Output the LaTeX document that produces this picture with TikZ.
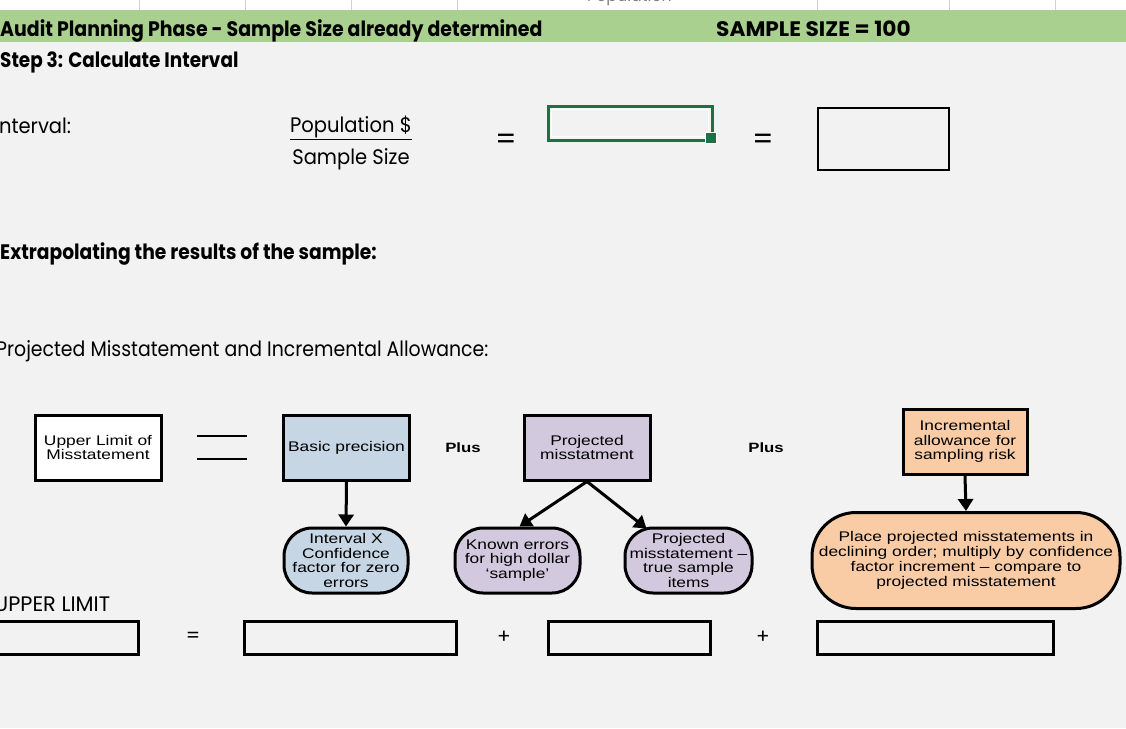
\documentclass[tikz,border=0pt]{standalone}
\usepackage{fontspec}
\setmainfont{Poppins}
\newfontfamily\shR[FakeStretch=0.93]{Poppins}
\newfontfamily\shB[FakeStretch=0.89]{Poppins}
\newfontfamily\arialw[FakeStretch=1.24]{Liberation Sans}
\usetikzlibrary{arrows.meta,calc}
\definecolor{bg}{HTML}{F2F2F2}
\definecolor{band}{HTML}{A9D08E}
\definecolor{xlgreen}{HTML}{1E7145}
\definecolor{gridc}{HTML}{D0D0D0}
\definecolor{bluef}{HTML}{C6D6E4}
\definecolor{lilac}{HTML}{D2C9DF}
\definecolor{peach}{HTML}{F9CCA6}
\tikzset{
  sheet/.style={inner sep=0pt, anchor=base west, font=\shR\fontsize{21}{23}\selectfont},
  sheetb/.style={sheet, font=\shB\fontsize{21}{23}\selectfont\bfseries},
  diagbox/.style={draw=black, line width=3pt, minimum width=126pt, minimum height=65pt, inner sep=1pt, align=center, font=\arialw\fontsize{14}{14.8}\selectfont},
  pill/.style={diagbox, rounded corners=28pt},
  cellbox/.style={draw=black, line width=3pt},
  arr/.style={line width=3pt, -{Triangle[length=12pt,width=15pt]}},
  plus/.style={font=\arialw\bfseries\fontsize{13.5}{14}\selectfont}
}
\begin{document}
\begin{tikzpicture}[x=1pt,y=-1pt]
\useasboundingbox (0,0) rectangle (1126,728);
\clip (0,0) rectangle (1126,728);
\fill[bg] (0,0) rectangle (1126,728);
% top white strip with grid
\fill[white] (0,0) rectangle (1126,10);
\foreach \gx in {139,245,351,457,817,949,1055}
  \draw[gridc, line width=1pt] (\gx,0) -- (\gx,10);
\node[inner sep=0pt, anchor=base west, font=\shR\fontsize{17}{18}\selectfont, text=gray] (popcut) at (587,1.5) {Population};
\fill[band] (0,10) rectangle (1126,42);
\node[sheetb] (hdr) at (0,36.5) {\scalebox{1.013}[1]{Audit Planning Phase - Sample Size already determined}};
\node[sheetb] (ss) at (716,36.5) {\scalebox{1.16}[1]{SAMPLE SIZE = 100}};
\node[sheetb] (step) at (0,67) {\scalebox{0.985}[1]{Step 3: Calculate Interval}};
\node[sheet] (intv) at (-6,133) {Interval:};
\node[sheet, anchor=base] (pop) at (351,132) {\underline{Population \$}};
\node[sheet, anchor=base] (ssz) at (351,164) {Sample Size};
\node[font=\fontsize{30}{30}\selectfont] (eq1) at (506,142) {=};
% green selected cell
\draw[xlgreen, line width=3pt] (548,106) rectangle (712,140);
\draw[white, line width=1pt] (551.5,109.5) rectangle (708.5,136.5);
\fill[xlgreen, draw=white, line width=1pt] (705.5,132.5) rectangle (716.5,143.5);
\node[font=\fontsize{30}{30}\selectfont] (eq2) at (763,142) {=};
\draw[black, line width=2pt] (818,108) rectangle (949,170);
\node[sheetb] (extra) at (0,259) {Extrapolating the results of the sample:};
\node[sheet] (projh) at (-4,356) {\scalebox{0.967}[1]{Projected Misstatement and Incremental Allowance:}};
% diagram
\node[diagbox, fill=white] (ulm) at (98,447.5) {Upper Limit of\\Misstatement};
\draw[line width=2.5pt] (197,436) -- (247,436);
\draw[line width=2.5pt] (197,459) -- (247,459);
\node[diagbox, fill=bluef] (bp) at (346.5,447.5) {Basic precision};
\node[plus] (plus1) at (463,448) {Plus};
\node[diagbox, fill=lilac] (pm) at (587,447.5) {Projected\\misstatment};
\node[plus] (plus2) at (766,448) {Plus};
\node[diagbox, fill=peach, minimum width=124pt] (ia) at (965,441.5) {Incremental\\allowance for\\sampling risk};
\node[pill, fill=bluef, minimum width=124pt] (ix) at (346,560.5) {Interval X\\Confidence\\factor for zero\\errors};
\node[pill, fill=lilac, minimum width=125pt] (ke) at (517.5,560.5) {Known errors\\for high dollar\\‘sample’};
\node[pill, fill=lilac, minimum width=127pt, inner sep=0pt] (pt) at (688.5,560.5) {Projected\\misstatement –\\true sample\\items};
\node[pill, fill=peach, minimum width=308pt, minimum height=96pt, rounded corners=44pt, inner sep=0pt] (pp) at (966,560.5) {Place projected misstatements in\\declining order; multiply by confidence\\factor increment – compare to\\projected misstatement};
\draw[arr] (bp.south) -- (ix.north);
\draw[arr] (pm.south) -- ($(ke.north)+(2,0)$);
\draw[arr] (pm.south) -- ($(pt.north)+(-42,2)$);
\draw[arr] (ia.south) -- (pp.north);
% bottom row
\node[sheet, font=\shR\fontsize{21}{23}\selectfont] (ul) at (-6,611.5) {\scalebox{1.07}[1]{UPPER LIMIT}};
\draw[cellbox] (-10,621) rectangle (138,654);
\node[font=\fontsize{20}{20}\selectfont] (eq3) at (193,637) {=};
\draw[cellbox] (244,621) rectangle (456,654);
\node[font=\fontsize{20}{20}\selectfont] (pl1) at (504,637) {+};
\draw[cellbox] (548,621) rectangle (710,654);
\node[font=\fontsize{20}{20}\selectfont] (pl2) at (763,637) {+};
\draw[cellbox] (817,621) rectangle (1053,654);
\end{tikzpicture}
\end{document}
